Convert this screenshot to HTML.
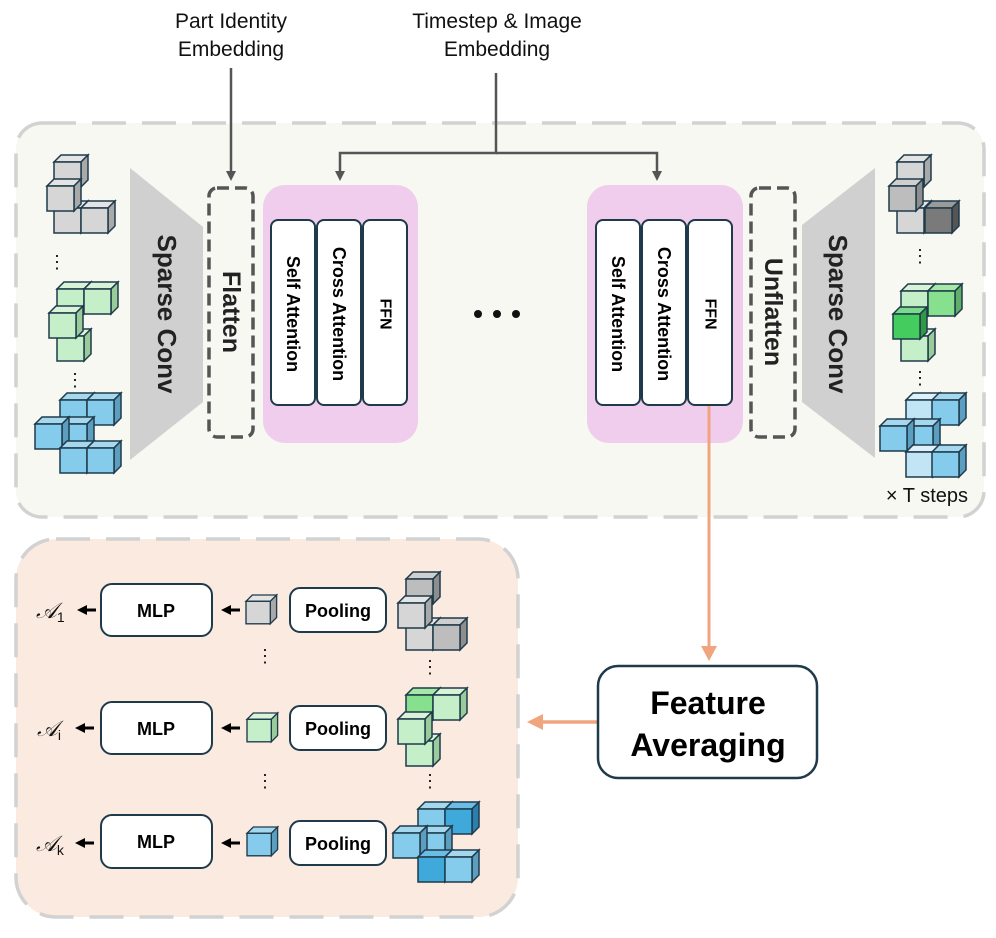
<!DOCTYPE html>
<html><head><meta charset="utf-8"><style>
html,body{margin:0;padding:0;background:#fff;}
svg{display:block;}
text{font-family:"Liberation Sans",Arial,sans-serif;}
.b{font-weight:bold;}
</style></head><body>
<svg width="996" height="938" viewBox="0 0 996 938" xmlns="http://www.w3.org/2000/svg">
<defs>
<marker id="ag" markerWidth="10" markerHeight="10" refX="5" refY="5" orient="auto" markerUnits="userSpaceOnUse"><path d="M0,0 L10,5 L0,10 z" fill="#555"/></marker>
<marker id="ak" markerWidth="10" markerHeight="10" refX="5" refY="5" orient="auto" markerUnits="userSpaceOnUse"><path d="M0,0 L10,5 L0,10 z" fill="#000"/></marker>
<g id="cg1"><polygon points="0,7 7,0 34,0 27,7" fill="#e4e4e4" stroke="#1f3a4a" stroke-width="1.5"/><polygon points="27,7 34,0 34,25 27,32" fill="#a9a9a9" stroke="#1f3a4a" stroke-width="1.5"/><rect x="0" y="7" width="27" height="25" fill="#d6d6d6" stroke="#1f3a4a" stroke-width="1.5"/></g>
<g id="cg2"><polygon points="0,7 7,0 34,0 27,7" fill="#cfcfcf" stroke="#1f3a4a" stroke-width="1.5"/><polygon points="27,7 34,0 34,25 27,32" fill="#8e8e8e" stroke="#1f3a4a" stroke-width="1.5"/><rect x="0" y="7" width="27" height="25" fill="#bdbdbd" stroke="#1f3a4a" stroke-width="1.5"/></g>
<g id="cg3"><polygon points="0,7 7,0 34,0 27,7" fill="#9a9a9a" stroke="#1f3a4a" stroke-width="1.5"/><polygon points="27,7 34,0 34,25 27,32" fill="#555" stroke="#1f3a4a" stroke-width="1.5"/><rect x="0" y="7" width="27" height="25" fill="#7a7a7a" stroke="#1f3a4a" stroke-width="1.5"/></g>
<g id="cn1"><polygon points="0,7 7,0 34,0 27,7" fill="#d8f3d8" stroke="#1f3a4a" stroke-width="1.5"/><polygon points="27,7 34,0 34,25 27,32" fill="#9acb9a" stroke="#1f3a4a" stroke-width="1.5"/><rect x="0" y="7" width="27" height="25" fill="#c4efc8" stroke="#1f3a4a" stroke-width="1.5"/></g>
<g id="cn2"><polygon points="0,7 7,0 34,0 27,7" fill="#a6e8a6" stroke="#1f3a4a" stroke-width="1.5"/><polygon points="27,7 34,0 34,25 27,32" fill="#5fae6a" stroke="#1f3a4a" stroke-width="1.5"/><rect x="0" y="7" width="27" height="25" fill="#86e08e" stroke="#1f3a4a" stroke-width="1.5"/></g>
<g id="cn3"><polygon points="0,7 7,0 34,0 27,7" fill="#7ad98a" stroke="#1f3a4a" stroke-width="1.5"/><polygon points="27,7 34,0 34,25 27,32" fill="#2e9a44" stroke="#1f3a4a" stroke-width="1.5"/><rect x="0" y="7" width="27" height="25" fill="#44cc5e" stroke="#1f3a4a" stroke-width="1.5"/></g>
<g id="cb1"><polygon points="0,7 7,0 34,0 27,7" fill="#a5d8ef" stroke="#1f3a4a" stroke-width="1.5"/><polygon points="27,7 34,0 34,25 27,32" fill="#5b9ec0" stroke="#1f3a4a" stroke-width="1.5"/><rect x="0" y="7" width="27" height="25" fill="#85cbeb" stroke="#1f3a4a" stroke-width="1.5"/></g>
<g id="cb2"><polygon points="0,7 7,0 34,0 27,7" fill="#def1fa" stroke="#1f3a4a" stroke-width="1.5"/><polygon points="27,7 34,0 34,25 27,32" fill="#8fbfd6" stroke="#1f3a4a" stroke-width="1.5"/><rect x="0" y="7" width="27" height="25" fill="#c2e5f5" stroke="#1f3a4a" stroke-width="1.5"/></g>
<g id="cb3"><polygon points="0,7 7,0 34,0 27,7" fill="#6bbde6" stroke="#1f3a4a" stroke-width="1.5"/><polygon points="27,7 34,0 34,25 27,32" fill="#2a7fae" stroke="#1f3a4a" stroke-width="1.5"/><rect x="0" y="7" width="27" height="25" fill="#3fa9dc" stroke="#1f3a4a" stroke-width="1.5"/></g>
</defs>

<rect x="16" y="123" width="968" height="394" rx="26" fill="#f6f8f1" stroke="#d2d2d2" stroke-width="3.5" stroke-dasharray="34,16"/>
<rect x="16" y="539" width="502" height="378" rx="40" fill="#fbeae0" stroke="#d2d2d2" stroke-width="3.5" stroke-dasharray="34,16"/>

<text x="231" y="28" font-size="21" text-anchor="middle" fill="#111">Part Identity</text>
<text x="231" y="56" font-size="21" text-anchor="middle" fill="#111">Embedding</text>
<text x="497" y="28" font-size="21" text-anchor="middle" fill="#111">Timestep &amp; Image</text>
<text x="497" y="56" font-size="21" text-anchor="middle" fill="#111">Embedding</text>
<line x1="231" y1="68" x2="231" y2="176" stroke="#555" stroke-width="2.5" marker-end="url(#ag)"/>
<polyline points="496,73 496,153 340,153 340,176" fill="none" stroke="#555" stroke-width="2.5" marker-end="url(#ag)"/>
<polyline points="496,153 657,153 657,176" fill="none" stroke="#555" stroke-width="2.5" marker-end="url(#ag)"/>

<polygon points="130,168 203,227 203,402 130,460" fill="#d0d0d0"/>
<text transform="translate(167,314) rotate(90)" font-size="26" class="b" text-anchor="middle" dominant-baseline="central" fill="#222">Sparse Conv</text>
<rect x="209" y="188" width="44" height="249" rx="8" fill="none" stroke="#555" stroke-width="3.5" stroke-dasharray="12,6"/>
<text transform="translate(231,312) rotate(90)" font-size="25" class="b" text-anchor="middle" dominant-baseline="central" fill="#222">Flatten</text>

<rect x="263" y="185" width="155" height="258" rx="22" fill="#f0cdec"/>
<rect x="271" y="220" width="44" height="185" rx="7" fill="#fff" stroke="#1f3a4a" stroke-width="2"/>
<rect x="317" y="220" width="44" height="185" rx="7" fill="#fff" stroke="#1f3a4a" stroke-width="2"/>
<rect x="363" y="220" width="44" height="185" rx="7" fill="#fff" stroke="#1f3a4a" stroke-width="2"/>
<text transform="translate(293,314) rotate(90)" font-size="18" class="b" text-anchor="middle" dominant-baseline="central">Self Attention</text>
<text transform="translate(339,314) rotate(90)" font-size="18" class="b" text-anchor="middle" dominant-baseline="central">Cross Attention</text>
<text transform="translate(385,314) rotate(90)" font-size="16" class="b" text-anchor="middle" dominant-baseline="central">FFN</text>

<rect x="587" y="185" width="156" height="258" rx="22" fill="#f0cdec"/>
<rect x="596" y="220" width="44" height="185" rx="7" fill="#fff" stroke="#1f3a4a" stroke-width="2"/>
<rect x="642" y="220" width="44" height="185" rx="7" fill="#fff" stroke="#1f3a4a" stroke-width="2"/>
<rect x="688" y="220" width="44" height="185" rx="7" fill="#fff" stroke="#1f3a4a" stroke-width="2"/>
<text transform="translate(618,314) rotate(90)" font-size="18" class="b" text-anchor="middle" dominant-baseline="central">Self Attention</text>
<text transform="translate(664,314) rotate(90)" font-size="18" class="b" text-anchor="middle" dominant-baseline="central">Cross Attention</text>
<text transform="translate(710,314) rotate(90)" font-size="16" class="b" text-anchor="middle" dominant-baseline="central">FFN</text>

<circle cx="478" cy="314" r="4" fill="#111"/><circle cx="497" cy="314" r="4" fill="#111"/><circle cx="516" cy="314" r="4" fill="#111"/>

<rect x="751" y="188" width="44" height="249" rx="8" fill="none" stroke="#555" stroke-width="3.5" stroke-dasharray="12,6"/>
<text transform="translate(773,312) rotate(90)" font-size="25" class="b" text-anchor="middle" dominant-baseline="central" fill="#222">Unflatten</text>
<polygon points="875,168 802,225 802,402 875,458" fill="#d0d0d0"/>
<text transform="translate(838,314) rotate(90)" font-size="26" class="b" text-anchor="middle" dominant-baseline="central" fill="#222">Sparse Conv</text>
<text x="968" y="502" font-size="20" text-anchor="end" fill="#111">× T steps</text>

<use href="#cg1" x="54" y="155"/>
<use href="#cg1" x="54" y="201"/>
<use href="#cg1" x="81" y="201"/>
<use href="#cg1" x="47" y="179"/>
<text x="57" y="268" font-size="18" fill="#111" text-anchor="middle">⋮</text>
<use href="#cn1" x="57" y="282"/>
<use href="#cn1" x="84" y="282"/>
<use href="#cn1" x="57" y="329"/>
<use href="#cn1" x="49" y="306"/>
<text x="75" y="386" font-size="18" fill="#111" text-anchor="middle">⋮</text>
<use href="#cb1" x="60" y="393"/>
<use href="#cb1" x="87" y="393"/>
<use href="#cb1" x="60" y="417"/>
<use href="#cb1" x="35" y="417"/>
<use href="#cb1" x="60" y="441"/>
<use href="#cb1" x="87" y="441"/>

<use href="#cg1" x="897" y="155"/>
<use href="#cg1" x="897" y="201"/>
<use href="#cg3" x="925" y="201"/>
<use href="#cg2" x="889" y="179"/>
<text x="920" y="262" font-size="18" fill="#111" text-anchor="middle">⋮</text>
<use href="#cn1" x="901" y="284"/>
<use href="#cn2" x="928" y="284"/>
<use href="#cn1" x="901" y="329"/>
<use href="#cn3" x="893" y="307"/>
<text x="920" y="384" font-size="18" fill="#111" text-anchor="middle">⋮</text>
<use href="#cb2" x="906" y="393"/>
<use href="#cb1" x="932" y="393"/>
<use href="#cb1" x="906" y="419"/>
<use href="#cb1" x="880" y="419"/>
<use href="#cb2" x="906" y="445"/>
<use href="#cb1" x="932" y="445"/>

<line x1="709" y1="406" x2="709" y2="650" stroke="#f0a57e" stroke-width="3"/>
<path d="M701,646 L717,646 L709,661 z" fill="#f0a57e"/>
<line x1="598" y1="722" x2="540" y2="722" stroke="#f0a57e" stroke-width="3.5"/>
<path d="M543,714 L543,730 L527,722 z" fill="#f0a57e"/>

<rect x="598" y="666" width="219" height="112" rx="20" fill="#fff" stroke="#1f3a4a" stroke-width="2.5"/>
<text x="708" y="714" font-size="32" class="b" text-anchor="middle" fill="#000">Feature</text>
<text x="708" y="756" font-size="32" class="b" text-anchor="middle" fill="#000">Averaging</text>

<g font-size="18" class="b" text-anchor="middle">
<rect x="101" y="584" width="111" height="52" rx="11" fill="#fff" stroke="#1f3a4a" stroke-width="2"/>
<text x="156" y="617">MLP</text>
<rect x="101" y="702" width="111" height="52" rx="11" fill="#fff" stroke="#1f3a4a" stroke-width="2"/>
<text x="156" y="735">MLP</text>
<rect x="101" y="815" width="111" height="53" rx="11" fill="#fff" stroke="#1f3a4a" stroke-width="2"/>
<text x="156" y="848">MLP</text>
<rect x="290" y="588" width="96" height="44" rx="10" fill="#fff" stroke="#1f3a4a" stroke-width="2"/>
<text x="338" y="617">Pooling</text>
<rect x="290" y="706" width="96" height="44" rx="10" fill="#fff" stroke="#1f3a4a" stroke-width="2"/>
<text x="338" y="735">Pooling</text>
<rect x="290" y="821" width="96" height="44" rx="10" fill="#fff" stroke="#1f3a4a" stroke-width="2"/>
<text x="338" y="850">Pooling</text>
</g>
<g transform="translate(246,595) scale(0.9)"><use href="#cg1"/></g>
<g transform="translate(247,713) scale(0.9)"><use href="#cn1"/></g>
<g transform="translate(247,827) scale(0.9)"><use href="#cb1"/></g>
<line x1="240" y1="610" x2="226" y2="610" stroke="#000" stroke-width="3" marker-end="url(#ak)"/>
<line x1="240" y1="728" x2="226" y2="728" stroke="#000" stroke-width="3" marker-end="url(#ak)"/>
<line x1="240" y1="843" x2="226" y2="843" stroke="#000" stroke-width="3" marker-end="url(#ak)"/>
<line x1="96" y1="610" x2="82" y2="610" stroke="#000" stroke-width="3" marker-end="url(#ak)"/>
<line x1="94" y1="728" x2="80" y2="728" stroke="#000" stroke-width="3" marker-end="url(#ak)"/>
<line x1="94" y1="843" x2="80" y2="843" stroke="#000" stroke-width="3" marker-end="url(#ak)"/>
<g font-family="Liberation Serif,serif" font-style="italic" font-size="22" fill="#111">
<text x="36" y="618">𝒜<tspan font-size="14" font-style="normal" dy="4">1</tspan></text>
<text x="37" y="736">𝒜<tspan font-size="14" font-style="normal" dy="4">i</tspan></text>
<text x="36" y="851">𝒜<tspan font-size="14" font-style="normal" dy="4">k</tspan></text>
</g>
<text x="265" y="662" font-size="18" fill="#111" text-anchor="middle">⋮</text>
<text x="265" y="787" font-size="18" fill="#111" text-anchor="middle">⋮</text>
<text x="430" y="673" font-size="18" fill="#111" text-anchor="middle">⋮</text>
<text x="430" y="787" font-size="18" fill="#111" text-anchor="middle">⋮</text>

<use href="#cg2" x="406" y="572"/>
<use href="#cg1" x="406" y="618"/>
<use href="#cg2" x="433" y="618"/>
<use href="#cg1" x="398" y="596"/>
<use href="#cn2" x="406" y="688"/>
<use href="#cn1" x="433" y="688"/>
<use href="#cn1" x="406" y="734"/>
<use href="#cn1" x="398" y="712"/>
<use href="#cb1" x="418" y="802"/>
<use href="#cb3" x="445" y="802"/>
<use href="#cb1" x="418" y="826"/>
<use href="#cb1" x="393" y="826"/>
<use href="#cb3" x="418" y="850"/>
<use href="#cb1" x="445" y="850"/>
</svg>
</body></html>
